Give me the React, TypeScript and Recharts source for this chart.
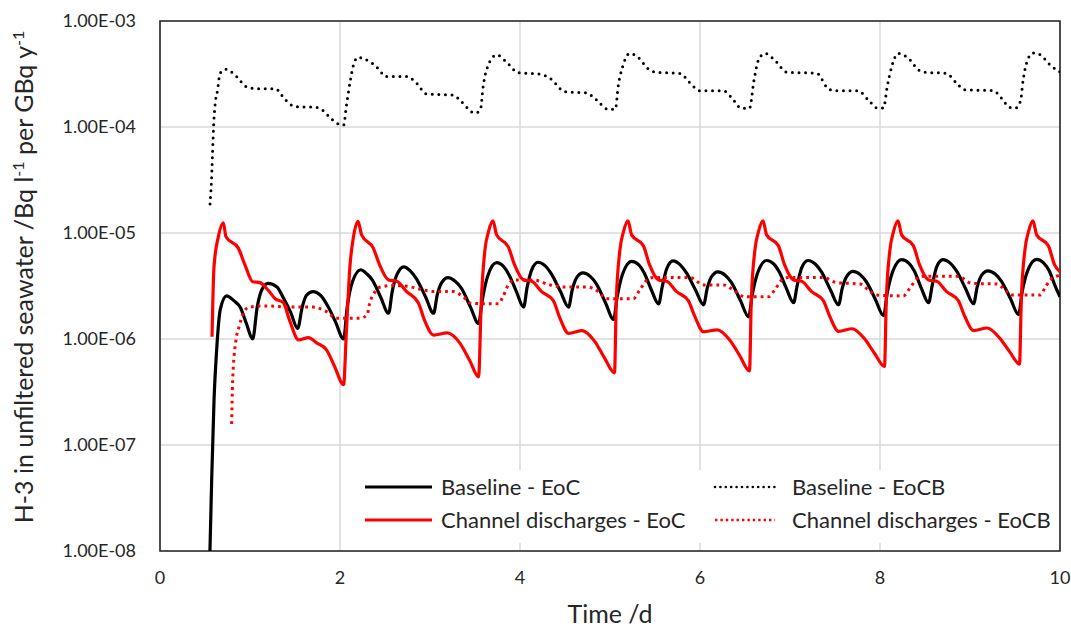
import { CartesianGrid, Legend, Line, LineChart, ReferenceArea, XAxis, YAxis } from "recharts";

// [time /d, concentration]
const baselineEoC = [
  [0.555, 1e-8], [0.575, 5e-8], [0.6, 2.6e-7], [0.63, 8e-7], [0.67, 1.9e-6], [0.74, 2.55e-6],
  [0.82, 2.3e-6], [0.89, 2.0e-6], [0.96, 1.4e-6], [1.03, 1.0e-6], [1.08, 2.0e-6], [1.13, 2.9e-6],
  [1.2, 3.35e-6], [1.3, 3.1e-6], [1.37, 2.45e-6], [1.45, 1.8e-6], [1.53, 1.26e-6], [1.58, 2.0e-6],
  [1.63, 2.6e-6], [1.7, 2.8e-6], [1.79, 2.55e-6], [1.87, 2.0e-6], [1.95, 1.45e-6], [2.04, 1.0e-6],
  [2.08, 2.0e-6], [2.14, 3.5e-6], [2.23, 4.5e-6], [2.3, 4.1e-6], [2.36, 3.6e-6], [2.45, 2.5e-6],
  [2.54, 1.75e-6], [2.58, 2.8e-6], [2.63, 4.0e-6], [2.71, 4.8e-6], [2.78, 4.4e-6], [2.85, 3.7e-6],
  [2.95, 2.5e-6], [3.04, 1.75e-6], [3.08, 2.6e-6], [3.13, 3.4e-6], [3.2, 3.8e-6], [3.28, 3.5e-6],
  [3.35, 3.0e-6], [3.45, 2.0e-6], [3.54, 1.4e-6], [3.58, 2.3e-6], [3.64, 3.9e-6], [3.74, 5.25e-6],
  [3.82, 4.8e-6], [3.88, 4.0e-6], [3.96, 2.8e-6], [4.04, 2.0e-6], [4.08, 3.1e-6], [4.13, 4.5e-6],
  [4.2, 5.3e-6], [4.28, 4.9e-6], [4.35, 4.1e-6], [4.45, 2.8e-6], [4.54, 2.0e-6], [4.58, 2.9e-6],
  [4.63, 3.8e-6], [4.7, 4.2e-6], [4.78, 3.9e-6], [4.85, 3.3e-6], [4.95, 2.2e-6], [5.04, 1.53e-6],
  [5.08, 2.5e-6], [5.14, 4.1e-6], [5.24, 5.4e-6], [5.32, 5.0e-6], [5.38, 4.2e-6], [5.46, 2.9e-6],
  [5.54, 2.14e-6], [5.58, 3.1e-6], [5.63, 4.6e-6], [5.7, 5.45e-6], [5.78, 5.0e-6], [5.85, 4.2e-6],
  [5.95, 2.9e-6], [6.04, 2.1e-6], [6.08, 3.0e-6], [6.13, 3.9e-6], [6.2, 4.3e-6], [6.28, 4.0e-6],
  [6.35, 3.4e-6], [6.45, 2.3e-6], [6.54, 1.62e-6], [6.58, 2.6e-6], [6.64, 4.2e-6], [6.74, 5.5e-6],
  [6.82, 5.1e-6], [6.88, 4.3e-6], [6.96, 3.0e-6], [7.04, 2.2e-6], [7.08, 3.2e-6], [7.13, 4.7e-6],
  [7.2, 5.5e-6], [7.28, 5.1e-6], [7.35, 4.3e-6], [7.45, 2.9e-6], [7.54, 2.1e-6], [7.58, 3.0e-6],
  [7.63, 3.9e-6], [7.7, 4.35e-6], [7.78, 4.05e-6], [7.85, 3.45e-6], [7.95, 2.35e-6], [8.04, 1.66e-6],
  [8.08, 2.7e-6], [8.14, 4.3e-6], [8.24, 5.6e-6], [8.32, 5.2e-6], [8.38, 4.4e-6], [8.46, 3.0e-6],
  [8.54, 2.2e-6], [8.58, 3.2e-6], [8.63, 4.8e-6], [8.7, 5.6e-6], [8.78, 5.2e-6], [8.85, 4.4e-6],
  [8.95, 3.0e-6], [9.04, 2.15e-6], [9.08, 3.1e-6], [9.13, 4.0e-6], [9.2, 4.4e-6], [9.28, 4.1e-6],
  [9.35, 3.5e-6], [9.45, 2.4e-6], [9.54, 1.7e-6], [9.58, 2.8e-6], [9.64, 4.4e-6], [9.74, 5.65e-6],
  [9.82, 5.2e-6], [9.88, 4.4e-6], [9.95, 3.1e-6], [10, 2.5e-6],
];

const baselineEoCB = [
  [0.556, 1.88e-5], [0.574, 3.4e-5], [0.585, 6.1e-5], [0.595, 1.0e-4], [0.61, 1.56e-4], [0.64, 2.24e-4],
  [0.667, 3.2e-4], [0.73, 3.5e-4], [0.85, 3.0e-4], [0.96, 2.4e-4], [1.07, 2.3e-4], [1.28, 2.3e-4],
  [1.39, 1.82e-4], [1.5, 1.56e-4], [1.74, 1.53e-4], [1.81, 1.43e-4], [1.91, 1.18e-4], [1.98, 1.07e-4],
  [2.04, 1.04e-4], [2.07, 1.56e-4], [2.11, 2.6e-4], [2.15, 3.85e-4], [2.2, 4.55e-4], [2.28, 4.35e-4],
  [2.44, 3.45e-4], [2.5, 3.0e-4], [2.74, 3.0e-4], [2.85, 2.6e-4], [2.96, 2.05e-4], [3.26, 2.0e-4],
  [3.35, 1.73e-4], [3.5, 1.35e-4], [3.56, 1.45e-4], [3.59, 2.4e-4], [3.64, 3.7e-4], [3.74, 4.8e-4],
  [3.85, 4.1e-4], [3.98, 3.25e-4], [4.22, 3.15e-4], [4.33, 2.9e-4], [4.5, 2.15e-4], [4.74, 2.1e-4],
  [4.85, 1.8e-4], [4.98, 1.47e-4], [5.06, 1.47e-4], [5.09, 2.4e-4], [5.14, 3.7e-4], [5.22, 4.95e-4],
  [5.31, 4.55e-4], [5.44, 3.45e-4], [5.5, 3.3e-4], [5.78, 3.2e-4], [5.89, 2.6e-4], [6.0, 2.2e-4],
  [6.26, 2.2e-4], [6.35, 1.9e-4], [6.46, 1.5e-4], [6.55, 1.5e-4], [6.6, 2.77e-4], [6.65, 4.3e-4],
  [6.72, 4.95e-4], [6.85, 4.1e-4], [6.96, 3.3e-4], [7.3, 3.2e-4], [7.41, 2.37e-4], [7.48, 2.2e-4],
  [7.76, 2.2e-4], [7.87, 1.8e-4], [7.98, 1.5e-4], [8.04, 1.52e-4], [8.08, 2.4e-4], [8.13, 3.7e-4],
  [8.2, 4.95e-4], [8.31, 4.5e-4], [8.43, 3.45e-4], [8.48, 3.3e-4], [8.74, 3.2e-4], [8.85, 2.6e-4],
  [8.94, 2.25e-4], [9.26, 2.2e-4], [9.35, 1.87e-4], [9.44, 1.53e-4], [9.5, 1.5e-4], [9.56, 1.75e-4],
  [9.59, 2.77e-4], [9.64, 4.3e-4], [9.7, 5.0e-4], [9.78, 4.8e-4], [9.89, 3.85e-4], [10, 3.3e-4],
];

const channelEoC = [
  [0.578, 1.05e-6], [0.6, 4.8e-6], [0.648, 9.2e-6], [0.704, 1.25e-5], [0.733, 9.2e-6], [0.87, 7.2e-6],
  [0.944, 5.0e-6], [1.03, 3.47e-6], [1.11, 3.4e-6], [1.2, 2.9e-6], [1.28, 2.4e-6], [1.37, 2.2e-6],
  [1.44, 1.5e-6], [1.54, 0.98e-6], [1.65, 1.03e-6], [1.74, 0.92e-6], [1.85, 0.79e-6], [1.94, 0.55e-6],
  [2.04, 0.37e-6], [2.07, 1.13e-6], [2.11, 4.8e-6], [2.15, 9.2e-6], [2.2, 1.29e-5], [2.24, 9.6e-6],
  [2.37, 7.2e-6], [2.44, 5.0e-6], [2.54, 3.6e-6], [2.63, 3.5e-6], [2.74, 2.8e-6], [2.87, 2.2e-6],
  [2.94, 1.5e-6], [3.04, 1.09e-6], [3.19, 1.14e-6], [3.33, 0.92e-6], [3.44, 0.63e-6], [3.54, 0.44e-6],
  [3.57, 2.3e-6], [3.61, 6.9e-6], [3.65, 1.03e-5], [3.7, 1.3e-5], [3.74, 9.6e-6], [3.87, 7.4e-6],
  [3.94, 5.0e-6], [4.04, 3.6e-6], [4.13, 3.5e-6], [4.24, 2.8e-6], [4.37, 2.3e-6], [4.44, 1.6e-6],
  [4.54, 1.13e-6], [4.69, 1.2e-6], [4.83, 0.95e-6], [4.94, 0.66e-6], [5.05, 0.48e-6], [5.07, 2.3e-6],
  [5.11, 6.9e-6], [5.15, 1.03e-5], [5.2, 1.3e-5], [5.24, 9.6e-6], [5.37, 7.6e-6], [5.44, 5.0e-6],
  [5.54, 3.6e-6], [5.63, 3.5e-6], [5.74, 2.8e-6], [5.87, 2.3e-6], [5.94, 1.65e-6], [6.04, 1.17e-6],
  [6.19, 1.22e-6], [6.33, 0.98e-6], [6.44, 0.7e-6], [6.55, 0.5e-6], [6.57, 2.3e-6], [6.61, 6.9e-6],
  [6.65, 1.03e-5], [6.7, 1.3e-5], [6.74, 9.6e-6], [6.87, 7.6e-6], [6.94, 5.0e-6], [7.04, 3.6e-6],
  [7.13, 3.5e-6], [7.24, 2.8e-6], [7.37, 2.3e-6], [7.44, 1.65e-6], [7.54, 1.18e-6], [7.69, 1.25e-6],
  [7.83, 1.0e-6], [7.94, 0.73e-6], [8.05, 0.55e-6], [8.07, 2.3e-6], [8.11, 6.9e-6], [8.15, 1.03e-5],
  [8.2, 1.3e-5], [8.24, 9.6e-6], [8.37, 7.6e-6], [8.44, 5.0e-6], [8.54, 3.6e-6], [8.63, 3.5e-6],
  [8.74, 2.8e-6], [8.87, 2.3e-6], [8.94, 1.65e-6], [9.04, 1.2e-6], [9.19, 1.27e-6], [9.33, 1.02e-6],
  [9.44, 0.76e-6], [9.55, 0.58e-6], [9.57, 2.3e-6], [9.61, 6.9e-6], [9.65, 1.03e-5], [9.7, 1.3e-5],
  [9.74, 9.6e-6], [9.87, 7.6e-6], [9.94, 5.0e-6], [10, 4.3e-6],
];

const channelEoCB = [
  [0.796, 1.58e-7], [0.807, 4.0e-7], [0.815, 5.5e-7], [0.844, 9.8e-7], [0.88, 1.32e-6], [0.926, 1.75e-6],
  [0.99, 2.0e-6], [1.19, 2.05e-6], [1.44, 2.0e-6], [1.7, 2.0e-6], [1.85, 1.81e-6], [1.96, 1.57e-6],
  [2.22, 1.57e-6], [2.3, 1.68e-6], [2.33, 2.17e-6], [2.39, 2.8e-6], [2.44, 3.08e-6], [2.59, 3.2e-6],
  [2.74, 3.15e-6], [2.89, 2.95e-6], [3.04, 2.8e-6], [3.26, 2.8e-6], [3.37, 2.5e-6], [3.46, 2.17e-6],
  [3.76, 2.15e-6], [3.81, 2.5e-6], [3.87, 3.24e-6], [3.93, 3.6e-6], [4.15, 3.6e-6], [4.33, 3.24e-6],
  [4.48, 3.1e-6], [4.74, 3.1e-6], [4.87, 2.8e-6], [4.96, 2.4e-6], [5.26, 2.4e-6], [5.33, 2.9e-6],
  [5.41, 3.6e-6], [5.48, 3.8e-6], [5.89, 3.8e-6], [6.04, 3.24e-6], [6.26, 3.24e-6], [6.37, 2.9e-6],
  [6.5, 2.5e-6], [6.76, 2.5e-6], [6.83, 2.9e-6], [6.91, 3.6e-6], [6.98, 3.8e-6], [7.37, 3.8e-6],
  [7.52, 3.4e-6], [7.78, 3.3e-6], [7.87, 2.9e-6], [7.96, 2.6e-6], [8.26, 2.55e-6], [8.33, 3.0e-6],
  [8.41, 3.7e-6], [8.48, 3.9e-6], [8.87, 3.9e-6], [9.02, 3.35e-6], [9.3, 3.3e-6], [9.39, 2.9e-6],
  [9.46, 2.6e-6], [9.78, 2.6e-6], [9.83, 3.0e-6], [9.89, 3.6e-6], [10, 4.0e-6],
];

const xTicks = [0, 2, 4, 6, 8, 10];
const yTicks = [1e-8, 1e-7, 1e-6, 1e-5, 1e-4, 1e-3];

const series = [
  { name: "Baseline - EoC", data: baselineEoC, color: "#000000", dotted: false },
  { name: "Baseline - EoCB", data: baselineEoCB, color: "#000000", dotted: true },
  { name: "Channel discharges - EoC", data: channelEoC, color: "#ff0000", dotted: false },
  { name: "Channel discharges - EoCB", data: channelEoCB, color: "#ff0000", dotted: true },
];

const toPts = (arr: number[][]) => arr.map(([t, v]) => ({ t, v }));

const fmtY = (v: number) => {
  const e = Math.round(Math.log10(v));
  return `1.00E${e < 0 ? "-" : "+"}${String(Math.abs(e)).padStart(2, "0")}`;
};

const TEXT = "#262626";

function YTitle() {
  const x = 33;
  const y = 277;
  return (
    <text x={x} y={y} transform={`rotate(-90 ${x} ${y})`} textAnchor="middle" fontSize={25} fill={TEXT}>
      H-3 in unfiltered seawater /Bq l
      <tspan dy={-9} fontSize={16}>-1</tspan>
      <tspan dy={9}> per GBq y</tspan>
      <tspan dy={-9} fontSize={16}>-1</tspan>
    </text>
  );
}

function XTitle({ viewBox }: any) {
  const cx = viewBox ? viewBox.x + viewBox.width / 2 : 610;
  return (
    <text x={cx} y={623} textAnchor="middle" fontSize={25} fill={TEXT}>
      Time /d
    </text>
  );
}

function LegendBox() {
  return (
    <div
      style={{
        display: "grid",
        gridTemplateColumns: "348px auto",
        gridAutoRows: "33px",
        paddingTop: 0,
        paddingLeft: 5,
        fontSize: 22,
        color: TEXT,
      }}
    >
      {series.map((s) => (
        <div key={s.name} style={{ display: "flex", alignItems: "center" }}>
          <svg width={67} height={10} style={{ marginRight: s.dotted ? 12 : 9 }}>
            {s.dotted ? (
              <line x1={2} y1={5} x2={62} y2={5} stroke={s.color} strokeWidth={2.6}
                strokeDasharray={s.color === "#000000" ? "0 5.4" : "2.4 3"} strokeLinecap={s.color === "#000000" ? "round" : "butt"} />
            ) : (
              <line x1={0} y1={5} x2={67} y2={5} stroke={s.color} strokeWidth={3.2} />
            )}
          </svg>
          <span>{s.name}</span>
        </div>
      ))}
    </div>
  );
}

export default function App() {
  return (
    <div style={{ position: "absolute", left: 0, top: 0, fontFamily: "Lato, 'Open Sans', sans-serif" }}>
      <LineChart width={1071} height={631} margin={{ top: 21, right: 11, bottom: 0, left: 0 }}>
        <CartesianGrid stroke="#d9d9d9" strokeWidth={1.5} />
        <XAxis
          type="number"
          dataKey="t"
          domain={[0, 10]}
          ticks={xTicks}
          allowDataOverflow
          axisLine={false}
          tickLine={false}
          tickMargin={14}
          height={80}
          tick={{ fill: TEXT, fontSize: 18 }}
          label={<XTitle />}
        />
        <YAxis
          type="number"
          dataKey="v"
          scale="log"
          domain={[1e-8, 1e-3]}
          ticks={yTicks}
          allowDataOverflow
          axisLine={false}
          tickLine={false}
          tickMargin={18}
          width={160}
          tickFormatter={fmtY}
          tick={{ fill: TEXT, fontSize: 18 }}
          label={<YTitle />}
        />
        <ReferenceArea x1={0} x2={10} y1={1e-8} y2={1e-3} fill="none" stroke="#262626" strokeWidth={1.6} ifOverflow="visible" />
        {series.map((s) => (
          <Line
            key={s.name}
            data={toPts(s.data)}
            dataKey="v"
            name={s.name}
            type="monotone"
            stroke={s.color}
            strokeWidth={s.dotted ? 3 : 3.2}
            strokeDasharray={s.dotted ? (s.color === "#000000" ? "0 6.6" : "2.8 4") : undefined}
            strokeLinecap={s.dotted && s.color === "#000000" ? "round" : "butt"}
            dot={false}
            activeDot={false}
            isAnimationActive={false}
          />
        ))}
        <Legend
          layout="horizontal"
          verticalAlign="middle"
          align="center"
          content={<LegendBox />}
          wrapperStyle={{ left: 360, top: 470, width: 695, height: 73, background: "#ffffff" }}
        />
      </LineChart>
    </div>
  );
}
